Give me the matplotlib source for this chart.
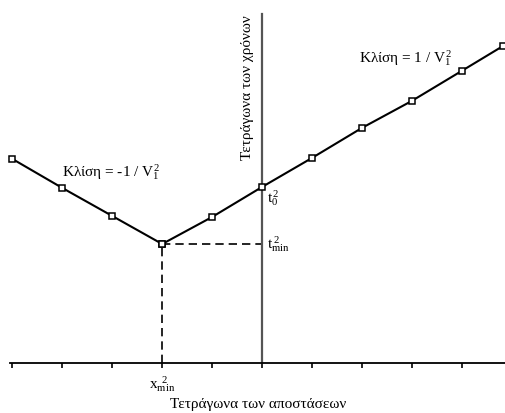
import matplotlib
matplotlib.use("Agg")
import matplotlib.pyplot as plt

plt.rcParams['font.family'] = ['Liberation Serif', 'DejaVu Serif']
plt.rcParams['mathtext.fontset'] = 'custom'
plt.rcParams['mathtext.rm'] = 'Liberation Serif'
plt.rcParams['mathtext.it'] = 'Liberation Serif:italic'

# Data (squared distance units vs squared time units)
x_left = [-5, -4, -3, -2]
y_left = [20.4, 17.5, 14.7, 11.9]
x_right = [-2, -1, 0, 1, 2, 3, 4, 4.83]
y_right = [11.9, 14.6, 17.6, 20.5, 23.5, 26.2, 29.2, 31.7]
x_ticks = [-5, -4, -3, -2, -1, 0, 1, 2, 3, 4]
x_min, t_min = -2, 11.9
t0 = 17.6

fig = plt.figure(figsize=(5.06, 4.14), dpi=100)
ax = fig.add_axes([0, 0, 1, 1])
ax.set_xlim(-5.25, 4.89)
ax.set_ylim(-5.0, 36.4)

# axes
for s in ['top', 'right']:
    ax.spines[s].set_visible(False)
ax.spines['bottom'].set_position(('data', 0))
ax.spines['bottom'].set_bounds(-5.05, 4.89)
ax.spines['bottom'].set_linewidth(1.3)
ax.spines['left'].set_position(('data', 0))
ax.spines['left'].set_bounds(0, 34.9)
ax.spines['left'].set_linewidth(1.6)
ax.spines['left'].set_color('#555555')
ax.set_xticks(x_ticks)
ax.set_xticklabels([])
ax.tick_params(axis='x', direction='out', length=3.5, width=1.2)
ax.set_yticks([])

# dashed guides
ax.plot([x_min, 0], [t_min, t_min], color='black', lw=1.2, ls=(0, (5, 3)))
ax.plot([x_min, x_min], [0, t_min], color='black', lw=1.2, ls=(0, (5, 3)))

# data lines
ax.plot(x_left, y_left, color='black', lw=1.5, marker='s', ms=4.5,
        mfc='white', mec='black', mew=1.1, zorder=5)
ax.plot(x_right, y_right, color='black', lw=1.5, marker='s', ms=4.5,
        mfc='white', mec='black', mew=1.1, zorder=5, clip_on=False)

fs = 11
ax.text(-4.0, 19.2, r'Κλίση = -1 / $\mathregular{V_1^{\,2}}$', fontsize=fs, va='center', ha='left')
ax.text(1.95, 30.6, r'Κλίση = 1 / $\mathregular{V_1^{\,2}}$', fontsize=fs, va='center', ha='left')
ax.text(0.1, 16.6, r'$\mathregular{t_0^{\,2}}$', fontsize=fs, va='center', ha='left')
ax.text(0.1, 12.0, r'$\mathregular{t_{min}^{\;2}}$', fontsize=fs, va='center', ha='left')
ax.text(x_min, -1.0, r'$\mathregular{x_{min}^{\;\;2}}$', fontsize=fs, va='top', ha='center')
ax.text(-0.3, 34.9, 'Τετράγωνα των χρόνων', fontsize=fs, rotation=90, va='top', ha='center')
ax.text(-0.08, -4.1, 'Τετράγωνα των αποστάσεων', fontsize=fs, va='center', ha='center')

fig.savefig('out.png', dpi=100)
